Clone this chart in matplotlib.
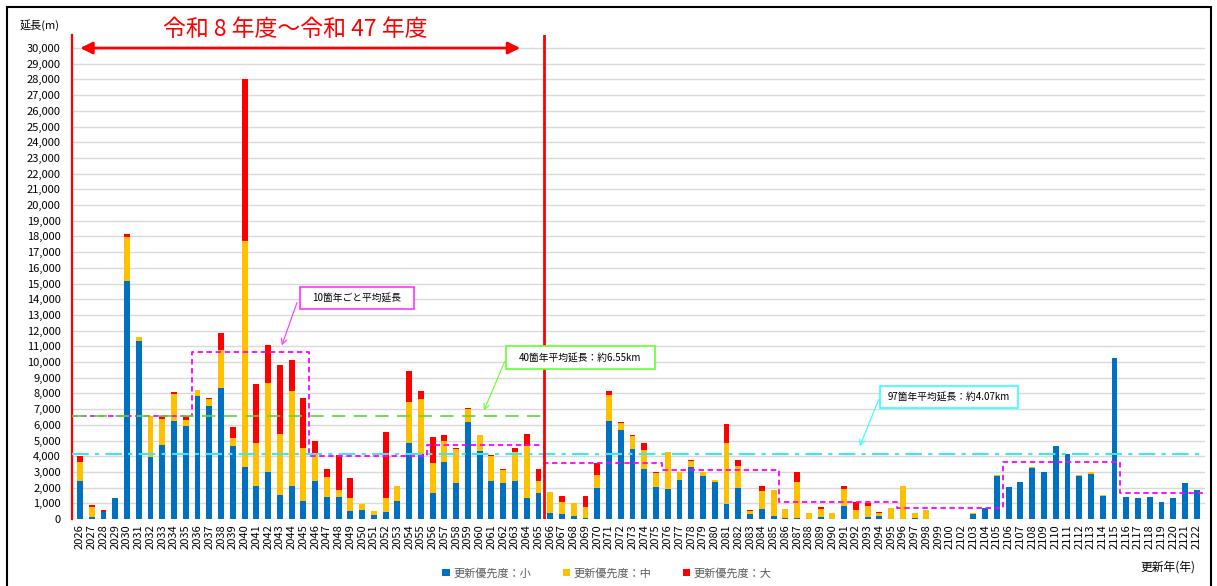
import numpy as np
import matplotlib.pyplot as plt
from matplotlib.patches import Rectangle

plt.rcParams['font.family'] = ['Noto Sans CJK JP', 'DejaVu Sans']

# years (2101 is not in the chart)
years = [y for y in range(2026, 2123) if y != 2101]

small = [2450, 150, 430, 1320, 15140, 11320, 3940, 4700, 6230, 5910,
         7830, 7190, 8340, 4660, 3330, 2130, 3020, 1510, 2090, 1170,
         2400, 1400, 1380, 490, 550, 230, 430, 1170, 4830, 4150,
         1680, 3620, 2320, 6170, 4360, 2400, 2320, 2400, 1320, 1680,
         400, 340, 210, 60, 2000, 6230, 5660, 4450, 3170, 2060,
         1890, 2470, 3300, 2740, 2340, 940, 1960, 300, 660, 210,
         60, 60, 0, 110, 0, 810, 0, 110, 170, 0,
         0, 85, 0, 0, 0, 0, 340, 680, 2740,
         2040, 2340, 3260, 2980, 4640, 4150, 2770, 2870, 1470, 10230,
         1430, 1320, 1380, 1110, 1320, 2280, 1850]
middle = [1210, 600, 30, 0, 2800, 290, 2590, 1680, 1710, 410,
          360, 430, 2450, 530, 14400, 2680, 5620, 3890, 6080, 3360,
          1810, 1300, 490, 850, 390, 300, 890, 920, 2620, 3510,
          1890, 1320, 2130, 830, 960, 1620, 790, 1880, 3340, 720,
          1300, 770, 810, 730, 790, 1680, 430, 830, 1210, 880,
          2370, 510, 380, 260, 130, 3890, 1400, 230, 1130, 1660,
          560, 2320, 400, 530, 360, 1100, 600, 700, 230, 720,
          2110, 315, 570, 30, 30, 0, 40, 0, 90,
          0, 0, 60, 40, 0, 0, 60, 110, 40, 0,
          0, 0, 0, 0, 40, 40, 0]
large = [360, 150, 140, 40, 190, 0, 0, 150, 120, 210,
         0, 80, 1060, 640, 10270, 3790, 2420, 4410, 1940, 3150,
         750, 470, 2220, 1300, 0, 0, 4230, 0, 1950, 510,
         1660, 380, 60, 90, 60, 40, 60, 270, 740, 810,
         40, 380, 0, 700, 780, 260, 60, 40, 470, 40,
         0, 0, 110, 0, 0, 1210, 410, 70, 300, 0,
         0, 600, 0, 150, 0, 180, 460, 230, 70, 0,
         0, 0, 0, 0, 0, 30, 0, 0, 0,
         0, 0, 0, 0, 0, 0, 0, 0, 0, 0,
         0, 0, 0, 0, 0, 0, 0]

# 10-year averages, 40-year and 97-year averages (m)
decade_avg = [6530, 10660, 4040, 4720, 3570, 3130, 1060, 680, 3620, 1680]
avg40 = 6550
avg97 = 4130

c_small, c_mid, c_large = '#0070C0', '#FFC000', '#FF0000'

fig = plt.figure(figsize=(12.17, 5.86), dpi=100)
ax = fig.add_axes([72 / 1217, 1 - 519 / 586, (1205 - 72) / 1217, (519 - 35) / 586])

x = np.arange(len(years))
s = np.array(small)
m = np.array(middle)
l = np.array(large)
w = 0.5
b1 = ax.bar(x, s, w, color=c_small, label='更新優先度：小', zorder=3)
b2 = ax.bar(x, m, w, bottom=s, color=c_mid, label='更新優先度：中', zorder=3)
b3 = ax.bar(x, l, w, bottom=s + m, color=c_large, label='更新優先度：大', zorder=3)

x0, x1 = -0.68, len(years) - 0.3
ax.set_xlim(x0, x1)
ax.set_ylim(0, 30830)
ax.set_yticks(range(0, 30001, 1000))
ax.set_yticklabels([f'{v:,}' for v in range(0, 30001, 1000)], fontsize=8)
ax.set_xticks(x)
ax.set_xticklabels([str(y) for y in years], rotation=90, fontsize=8)
ax.tick_params(length=0, axis='y', pad=8)
ax.tick_params(length=0, axis='x', pad=4)
ax.grid(axis='y', color='#D9D9D9', lw=1, zorder=0)
for sp in ['top', 'right', 'bottom']:
    ax.spines[sp].set_visible(False)
ax.spines['left'].set_color('red')
ax.spines['left'].set_linewidth(1.6)

# split line between 2065 and 2066
split = years.index(2065) + 0.5
ax.axvline(split, color='red', lw=2, zorder=5)

# decade step line
groups = np.array([(y - 2026) // 10 for y in years])
bounds = [x0] + [np.where(groups == g)[0].max() + 0.5 for g in range(len(decade_avg) - 1)] + [x1]
ax.step(bounds, decade_avg + [decade_avg[-1]], where='post', color='#FF00FF',
        lw=1.3, ls=(0, (3, 2)), zorder=4)

ax.plot([x0, split], [avg40, avg40], color='#5AD92F', lw=1.2, ls=(0, (8, 5)), zorder=4)
ax.plot([x0, x1], [avg97, avg97], color='#3DE8F0', lw=1.5, ls=(0, (8, 3, 2, 3)), zorder=4)

# annotation boxes
def callout(cx, cy, bw, bh, txt, col, ax_from, ay_from, ax_to, ay_to):
    ax.add_patch(Rectangle((cx - bw / 2, cy - bh / 2), bw, bh, facecolor='white',
                           edgecolor=col, lw=1.2, zorder=6))
    ax.text(cx, cy, txt, ha='center', va='center', fontsize=7, zorder=7)
    ax.annotate('', xy=(ax_to, ay_to), xytext=(ax_from, ay_from),
                arrowprops=dict(arrowstyle='->', color=col, lw=0.8), zorder=7)

callout(23.55, 14080, 9.7, 1400, '10箇年ごと平均延長', '#FF33FF', 18.54, 13950, 17.09, 10890)
callout(42.55, 10290, 12.67, 1470, '40箇年平均延長：約6.55km', '#66FF33', 36.22, 10190, 34.27, 6750)
callout(73.9, 7770, 11.73, 1400, '97箇年平均延長：約4.07km', '#33FFFF', 68.03, 7770, 66.24, 4460)

# period arrow and title
ax.annotate('', xy=(x0 + 0.7, 30000), xytext=(37.45, 30000),
            arrowprops=dict(arrowstyle='<|-|>', color='red', lw=2,
                            mutation_scale=18, shrinkA=0, shrinkB=0),
            annotation_clip=False, zorder=8)
fig.text(295 / 1217, 1 - 30 / 586, '令和 8 年度～令和 47 年度', color='red',
         fontsize=16.5, ha='center', va='center')

fig.text(20 / 1217, 1 - 25 / 586, '延長(m)', fontsize=8, ha='left', va='center')
fig.text(1195 / 1217, 1 - 567 / 586, '更新年(年)', fontsize=8.5, ha='right', va='center')

leg = fig.legend(handles=[b1, b2, b3], loc='center', bbox_to_anchor=(607 / 1217, 1 - 573 / 586),
                 ncol=3, frameon=False, fontsize=8, handlelength=0.7, handleheight=0.7,
                 handletextpad=0.3, columnspacing=2.8)
for t in leg.get_texts():
    t.set_color('#595959')

fig.patches.append(Rectangle((7 / 1217, -0.1), (1211 - 7) / 1217, 1.1 - 7 / 586,
                             transform=fig.transFigure, fill=False, edgecolor='black', lw=1.5))

fig.savefig('out.png', dpi=100, facecolor='white')
